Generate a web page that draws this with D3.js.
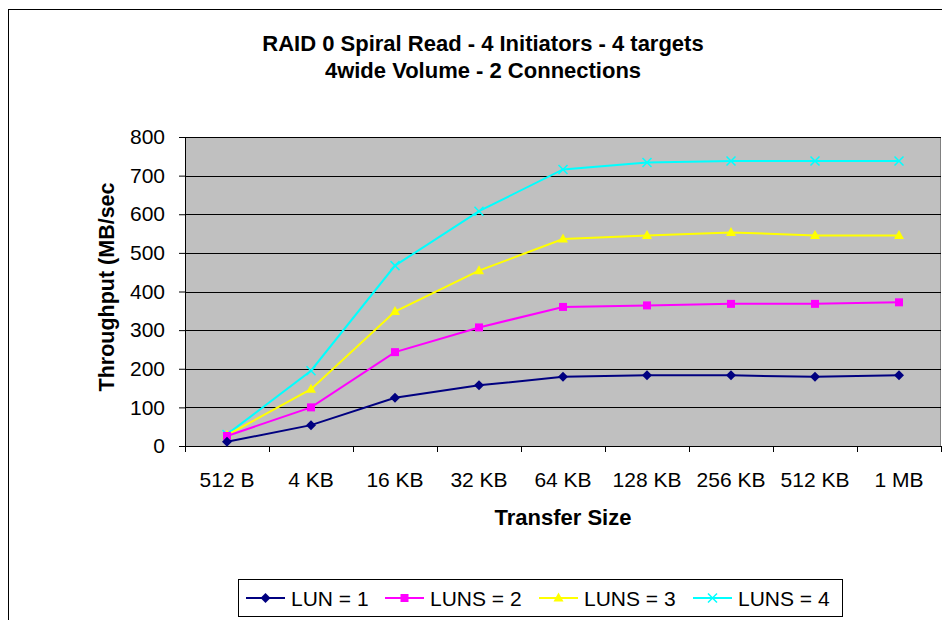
<!DOCTYPE html>
<html>
<head>
<meta charset="utf-8">
<script src="https://cdn.jsdelivr.net/npm/d3@7"></script>
<style>
body{margin:0;background:#fff;}
text{font-family:"Liberation Sans",Arial,sans-serif;}
</style>
</head>
<body>
<svg id="svg" width="942" height="620"></svg>
<script>
var sizes=["512 B","4 KB","16 KB","32 KB","64 KB","128 KB","256 KB","512 KB","1 MB"];
var yTicks=[0,100,200,300,400,500,600,700,800];
var lun1=[11,54,125,157,179,183,183,179,183];
var luns2=[26,100,243,307,360,364,368,368,372];
var luns3=[28,147,348,454,536,545,553,545,545];
var luns4=[30,195,467,608,716,734,738,738,738];
var names=["LUN = 1","LUNS = 2","LUNS = 3","LUNS = 4"];
var colors=["#000080","#FF00FF","#FFFF00","#00FFFF"];
var shapes=["diamond","square","triangle","cross"];

var series=[lun1,luns2,luns3,luns4].map((v,i)=>({name:names[i],color:colors[i],shape:shapes[i],values:v}));

var plotX=185,plotY=137,width=756,height=309;
var svg=d3.select("#svg");

// outer chart border
svg.append("rect")
    .attr("x",8.5).attr("y",9.5)
    .attr("width",960).attr("height",640)
    .attr("fill","#fff").attr("stroke","#000").attr("stroke-width",1)

var g=svg.append("g").attr("transform","translate("+plotX+","+plotY+")")

var x=d3.scaleBand().domain(sizes).range([0,width])
var y=d3.scaleLinear().domain([0,800]).range([height,0])

g.append("rect")
    .attr("x",0.5).attr("y",0.5)
    .attr("width",width-1).attr("height",height)
    .attr("fill","#C0C0C0").attr("stroke","#808080")

// gridlines
g.selectAll(".grid").data(yTicks.slice(1)).enter().append("line")
    .attr("x1",0).attr("x2",width)
    .attr("y1",d=>Math.round(y(d))+0.5).attr("y2",d=>Math.round(y(d))+0.5)
    .attr("stroke","#000").attr("stroke-width",1)

var yAxis=g.append("g")
    .call(d3.axisLeft(y).tickValues(yTicks).tickSize(6).tickPadding(14).tickSizeOuter(0))
yAxis.select(".domain").attr("stroke","#000")
yAxis.selectAll("text").style("font-size","21px").attr("fill","#000")

var xAxis=g.append("g").attr("transform","translate(0,"+height+")")
    .call(d3.axisBottom(x).tickSize(0).tickPadding(26))
xAxis.select(".domain").attr("stroke","#000")
xAxis.selectAll("text").style("font-size","21px").attr("fill","#000")
// tick marks at category boundaries
xAxis.selectAll(".bnd").data(d3.range(sizes.length+1)).enter().append("line")
    .attr("x1",i=>Math.round(i*x.step())+0.5).attr("x2",i=>Math.round(i*x.step())+0.5)
    .attr("y1",0).attr("y2",6).attr("stroke","#000")

var line=d3.line().x((d,i)=>x(sizes[i])+x.bandwidth()/2).y(d=>y(d))

function marker(sel,shape,color){
    if(shape=="diamond")
        sel.append("path").attr("d","M0,-5L5,0L0,5L-5,0Z").attr("fill",color)
    else if(shape=="square")
        sel.append("rect").attr("x",-4).attr("y",-4).attr("width",8).attr("height",8).attr("fill",color)
    else if(shape=="triangle")
        sel.append("path").attr("d","M0,-5.5L5,3.5L-5,3.5Z").attr("fill",color)
    else
        sel.append("path").attr("d","M-4.5,-4.5L4.5,4.5M-4.5,4.5L4.5,-4.5").attr("stroke",color).attr("stroke-width",1.5).attr("fill","none")
}

series.slice().reverse().forEach(s=>{
    g.append("path").datum(s.values)
        .attr("d",line)
        .attr("fill","none").attr("stroke",s.color).attr("stroke-width",2)
    s.values.forEach((v,i)=>{
        var m=g.append("g").attr("transform","translate("+(x(sizes[i])+x.bandwidth()/2)+","+y(v)+")")
        marker(m,s.shape,s.color)
    })
})

// titles
svg.append("text").attr("x",483).attr("y",51).attr("text-anchor","middle")
    .style("font-size","22px").style("font-weight","bold").text("RAID 0 Spiral Read - 4 Initiators - 4 targets")
svg.append("text").attr("x",483).attr("y",78).attr("text-anchor","middle")
    .style("font-size","22px").style("font-weight","bold").text("4wide Volume - 2 Connections")
svg.append("text").attr("x",563).attr("y",525).attr("text-anchor","middle")
    .style("font-size","22px").style("font-weight","bold").text("Transfer Size")
svg.append("text").attr("transform","translate(114,287) rotate(-90)").attr("text-anchor","middle")
    .style("font-size","21.5px").style("font-weight","bold").text("Throughput (MB/sec")

// legend
var lg=svg.append("g")
lg.append("rect").attr("x",238.5).attr("y",579.5).attr("width",604).attr("height",37)
    .attr("fill","#fff").attr("stroke","#000")
var lx=[246,385,539,693];
series.forEach((s,i)=>{
    var it=lg.append("g").attr("transform","translate("+lx[i]+",598)")
    it.append("line").attr("x1",0).attr("x2",39).attr("stroke",s.color).attr("stroke-width",2)
    var m=it.append("g").attr("transform","translate(19.5,0)")
    marker(m,s.shape,s.color)
    it.append("text").attr("x",45).attr("y",7.5).style("font-size","21px").text(s.name)
})
</script>
</body>
</html>
